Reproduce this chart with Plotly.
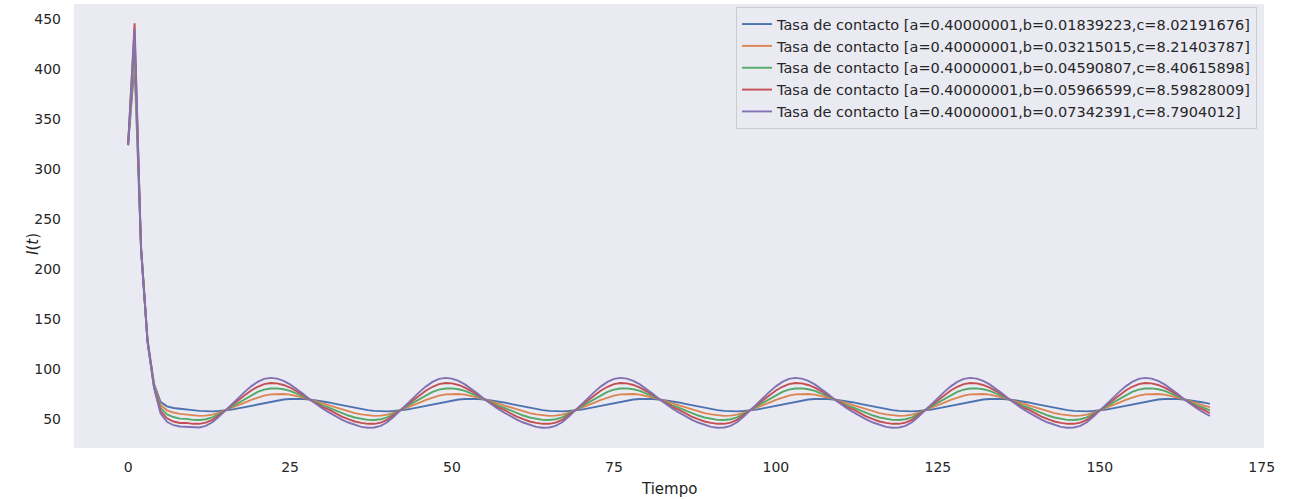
import plotly.graph_objects as go

# Time steps (x values)
tiempo = list(range(168))

# Series values
blue = [324, 405, 222, 129, 85, 67, 62.5, 60.8, 60.1,
        59.7, 58.7, 58.0, 57.6, 57.5, 57.8, 58.3, 59.2, 60.4, 61.7, 63.2, 64.6, 66.1, 67.4, 68.5, 69.3, 69.8, 70.0, 69.8, 69.4, 68.6, 67.6, 66.4, 65.0, 63.6, 62.2, 60.9,
        59.7, 58.7, 58.0, 57.6, 57.5, 57.8, 58.3, 59.2, 60.4, 61.7, 63.2, 64.6, 66.1, 67.4, 68.5, 69.3, 69.8, 70.0, 69.8, 69.4, 68.6, 67.6, 66.4, 65.0, 63.6, 62.2, 60.9,
        59.7, 58.7, 58.0, 57.6, 57.5, 57.8, 58.3, 59.2, 60.4, 61.7, 63.2, 64.6, 66.1, 67.4, 68.5, 69.3, 69.8, 70.0, 69.8, 69.4, 68.6, 67.6, 66.4, 65.0, 63.6, 62.2, 60.9,
        59.7, 58.7, 58.0, 57.6, 57.5, 57.8, 58.3, 59.2, 60.4, 61.7, 63.2, 64.6, 66.1, 67.4, 68.5, 69.3, 69.8, 70.0, 69.8, 69.4, 68.6, 67.6, 66.4, 65.0, 63.6, 62.2, 60.9,
        59.7, 58.7, 58.0, 57.6, 57.5, 57.8, 58.3, 59.2, 60.4, 61.7, 63.2, 64.6, 66.1, 67.4, 68.5, 69.3, 69.8, 70.0, 69.8, 69.4, 68.6, 67.6, 66.4, 65.0, 63.6, 62.2, 60.9,
        59.7, 58.7, 58.0, 57.6, 57.5, 57.8, 58.3, 59.2, 60.4, 61.7, 63.2, 64.6, 66.1, 67.4, 68.5, 69.3, 69.8, 70.0, 69.8, 69.4, 68.6, 67.6, 66.4, 65.0]

orange = [324, 415, 222, 128.5, 84, 64, 58.5, 56.3, 55.0,
          54.4, 53.4, 53.0, 53.2, 54.2, 56.0, 58.4, 61.0, 63.6, 66.3, 69.0, 71.4, 73.3, 74.5, 75.0, 74.9, 74.2, 73.0, 71.4, 69.4, 67.4, 65.3, 63.6, 61.4, 59.2, 57.3, 55.7,
          54.4, 53.4, 53.0, 53.2, 54.2, 56.0, 58.4, 61.0, 63.6, 66.3, 69.0, 71.4, 73.3, 74.5, 75.0, 74.9, 74.2, 73.0, 71.4, 69.4, 67.4, 65.3, 63.6, 61.4, 59.2, 57.3, 55.7,
          54.4, 53.4, 53.0, 53.2, 54.2, 56.0, 58.4, 61.0, 63.6, 66.3, 69.0, 71.4, 73.3, 74.5, 75.0, 74.9, 74.2, 73.0, 71.4, 69.4, 67.4, 65.3, 63.6, 61.4, 59.2, 57.3, 55.7,
          54.4, 53.4, 53.0, 53.2, 54.2, 56.0, 58.4, 61.0, 63.6, 66.3, 69.0, 71.4, 73.3, 74.5, 75.0, 74.9, 74.2, 73.0, 71.4, 69.4, 67.4, 65.3, 63.6, 61.4, 59.2, 57.3, 55.7,
          54.4, 53.4, 53.0, 53.2, 54.2, 56.0, 58.4, 61.0, 63.6, 66.3, 69.0, 71.4, 73.3, 74.5, 75.0, 74.9, 74.2, 73.0, 71.4, 69.4, 67.4, 65.3, 63.6, 61.4, 59.2, 57.3, 55.7,
          54.4, 53.4, 53.0, 53.2, 54.2, 56.0, 58.4, 61.0, 63.6, 66.3, 69.0, 71.4, 73.3, 74.5, 75.0, 74.9, 74.2, 73.0, 71.4, 69.4, 67.4, 65.3, 63.6, 61.4]

green = [324, 428, 221, 128, 83, 61, 54.5, 51.8, 50.2,
         50.0, 49.0, 48.8, 49.6, 51.5, 54.6, 58.4, 62.4, 66.2, 70.1, 73.8, 76.9, 79.2, 80.4, 80.5, 79.6, 77.9, 75.5, 72.7, 69.4, 66.3, 63.4, 61.2, 58.4, 55.6, 53.3, 51.3,
         50.0, 49.0, 48.8, 49.6, 51.5, 54.6, 58.4, 62.4, 66.2, 70.1, 73.8, 76.9, 79.2, 80.4, 80.5, 79.6, 77.9, 75.5, 72.7, 69.4, 66.3, 63.4, 61.2, 58.4, 55.6, 53.3, 51.3,
         50.0, 49.0, 48.8, 49.6, 51.5, 54.6, 58.4, 62.4, 66.2, 70.1, 73.8, 76.9, 79.2, 80.4, 80.5, 79.6, 77.9, 75.5, 72.7, 69.4, 66.3, 63.4, 61.2, 58.4, 55.6, 53.3, 51.3,
         50.0, 49.0, 48.8, 49.6, 51.5, 54.6, 58.4, 62.4, 66.2, 70.1, 73.8, 76.9, 79.2, 80.4, 80.5, 79.6, 77.9, 75.5, 72.7, 69.4, 66.3, 63.4, 61.2, 58.4, 55.6, 53.3, 51.3,
         50.0, 49.0, 48.8, 49.6, 51.5, 54.6, 58.4, 62.4, 66.2, 70.1, 73.8, 76.9, 79.2, 80.4, 80.5, 79.6, 77.9, 75.5, 72.7, 69.4, 66.3, 63.4, 61.2, 58.4, 55.6, 53.3, 51.3,
         50.0, 49.0, 48.8, 49.6, 51.5, 54.6, 58.4, 62.4, 66.2, 70.1, 73.8, 76.9, 79.2, 80.4, 80.5, 79.6, 77.9, 75.5, 72.7, 69.4, 66.3, 63.4, 61.2, 58.4]

red = [324, 446, 220, 127.5, 82, 58, 50.5, 47.3, 45.8,
       45.9, 45.0, 45.0, 46.2, 48.9, 53.3, 58.5, 63.7, 68.7, 73.6, 78.3, 82.1, 84.7, 85.8, 85.5, 83.9, 81.3, 77.8, 73.9, 69.5, 65.4, 61.7, 59.1, 55.6, 52.2, 49.6, 47.3,
       45.9, 45.0, 45.0, 46.2, 48.9, 53.3, 58.5, 63.7, 68.7, 73.6, 78.3, 82.1, 84.7, 85.8, 85.5, 83.9, 81.3, 77.8, 73.9, 69.5, 65.4, 61.7, 59.1, 55.6, 52.2, 49.6, 47.3,
       45.9, 45.0, 45.0, 46.2, 48.9, 53.3, 58.5, 63.7, 68.7, 73.6, 78.3, 82.1, 84.7, 85.8, 85.5, 83.9, 81.3, 77.8, 73.9, 69.5, 65.4, 61.7, 59.1, 55.6, 52.2, 49.6, 47.3,
       45.9, 45.0, 45.0, 46.2, 48.9, 53.3, 58.5, 63.7, 68.7, 73.6, 78.3, 82.1, 84.7, 85.8, 85.5, 83.9, 81.3, 77.8, 73.9, 69.5, 65.4, 61.7, 59.1, 55.6, 52.2, 49.6, 47.3,
       45.9, 45.0, 45.0, 46.2, 48.9, 53.3, 58.5, 63.7, 68.7, 73.6, 78.3, 82.1, 84.7, 85.8, 85.5, 83.9, 81.3, 77.8, 73.9, 69.5, 65.4, 61.7, 59.1, 55.6, 52.2, 49.6, 47.3,
       45.9, 45.0, 45.0, 46.2, 48.9, 53.3, 58.5, 63.7, 68.7, 73.6, 78.3, 82.1, 84.7, 85.8, 85.5, 83.9, 81.3, 77.8, 73.9, 69.5, 65.4, 61.7, 59.1, 55.6]

purple = [324, 440, 219, 127, 81, 55.5, 47, 43.6, 42.3,
          42.0, 41.1, 41.3, 43.0, 46.5, 52.0, 58.5, 65.0, 71.0, 77.0, 82.5, 87.0, 90.0, 91.0, 90.3, 88.0, 84.5, 80.0, 75.0, 69.5, 64.5, 60.3, 56.5, 52.8, 49.3, 46.3, 43.8,
          42.0, 41.1, 41.3, 43.0, 46.5, 52.0, 58.5, 65.0, 71.0, 77.0, 82.5, 87.0, 90.0, 91.0, 90.3, 88.0, 84.5, 80.0, 75.0, 69.5, 64.5, 60.3, 56.5, 52.8, 49.3, 46.3, 43.8,
          42.0, 41.1, 41.3, 43.0, 46.5, 52.0, 58.5, 65.0, 71.0, 77.0, 82.5, 87.0, 90.0, 91.0, 90.3, 88.0, 84.5, 80.0, 75.0, 69.5, 64.5, 60.3, 56.5, 52.8, 49.3, 46.3, 43.8,
          42.0, 41.1, 41.3, 43.0, 46.5, 52.0, 58.5, 65.0, 71.0, 77.0, 82.5, 87.0, 90.0, 91.0, 90.3, 88.0, 84.5, 80.0, 75.0, 69.5, 64.5, 60.3, 56.5, 52.8, 49.3, 46.3, 43.8,
          42.0, 41.1, 41.3, 43.0, 46.5, 52.0, 58.5, 65.0, 71.0, 77.0, 82.5, 87.0, 90.0, 91.0, 90.3, 88.0, 84.5, 80.0, 75.0, 69.5, 64.5, 60.3, 56.5, 52.8, 49.3, 46.3, 43.8,
          42.0, 41.1, 41.3, 43.0, 46.5, 52.0, 58.5, 65.0, 71.0, 77.0, 82.5, 87.0, 90.0, 91.0, 90.3, 88.0, 84.5, 80.0, 75.0, 69.5, 64.5, 60.3, 56.5, 52.8]

labels = [
    "Tasa de contacto [a=0.40000001,b=0.01839223,c=8.02191676]",
    "Tasa de contacto [a=0.40000001,b=0.03215015,c=8.21403787]",
    "Tasa de contacto [a=0.40000001,b=0.04590807,c=8.40615898]",
    "Tasa de contacto [a=0.40000001,b=0.05966599,c=8.59828009]",
    "Tasa de contacto [a=0.40000001,b=0.07342391,c=8.7904012]",
]
series = [blue, orange, green, red, purple]
colors = ["#4C72B0", "#DD8452", "#55A868", "#C44E52", "#8172B3"]

x_ticks = [0, 25, 50, 75, 100, 125, 150, 175]
y_ticks = [50, 100, 150, 200, 250, 300, 350, 400, 450]

FONT = "DejaVu Sans"
TXT = "#262626"

fig = go.Figure()
for vals, name, col in zip(series, labels, colors):
    fig.add_trace(go.Scatter(x=tiempo, y=vals, mode="lines", name=name,
                             line=dict(color=col, width=1.9)))

fig.update_layout(
    width=1290, height=499,
    margin=dict(l=74, r=26, t=4, b=51),
    paper_bgcolor="white",
    plot_bgcolor="#EAEAF2",
    font=dict(family=FONT, color=TXT, size=14),
    showlegend=True,
    legend=dict(
        x=0.9941, y=0.993, xanchor="right", yanchor="top",
        bgcolor="rgba(234,234,242,0.8)", bordercolor="#CCCCCC", borderwidth=1,
        font=dict(family=FONT, size=14.5, color=TXT),
        itemwidth=30,
    ),
    xaxis=dict(
        range=[-8.35, 175.35], tickvals=x_ticks, showgrid=False, zeroline=False,
        showline=False, ticks="", ticklabelstandoff=9,
        tickfont=dict(family=FONT, size=14, color=TXT),
    ),
    yaxis=dict(
        range=[20.8, 465.2], tickvals=y_ticks, showgrid=False, zeroline=False,
        showline=False, ticks="", ticklabelstandoff=12,
        tickfont=dict(family=FONT, size=14, color=TXT),
    ),
    annotations=[
        dict(text="Tiempo", xref="paper", yref="paper", x=0.5, y=-0.0923,
             xanchor="center", yanchor="middle", showarrow=False,
             font=dict(family=FONT, size=15, color=TXT)),
        dict(text="<i>I</i>(<i>t</i>)", xref="paper", yref="paper", x=-0.0345, y=0.4595,
             xanchor="center", yanchor="middle", showarrow=False, textangle=-90,
             font=dict(family=FONT, size=15, color=TXT)),
    ],
)

fig.write_html("out.html")
